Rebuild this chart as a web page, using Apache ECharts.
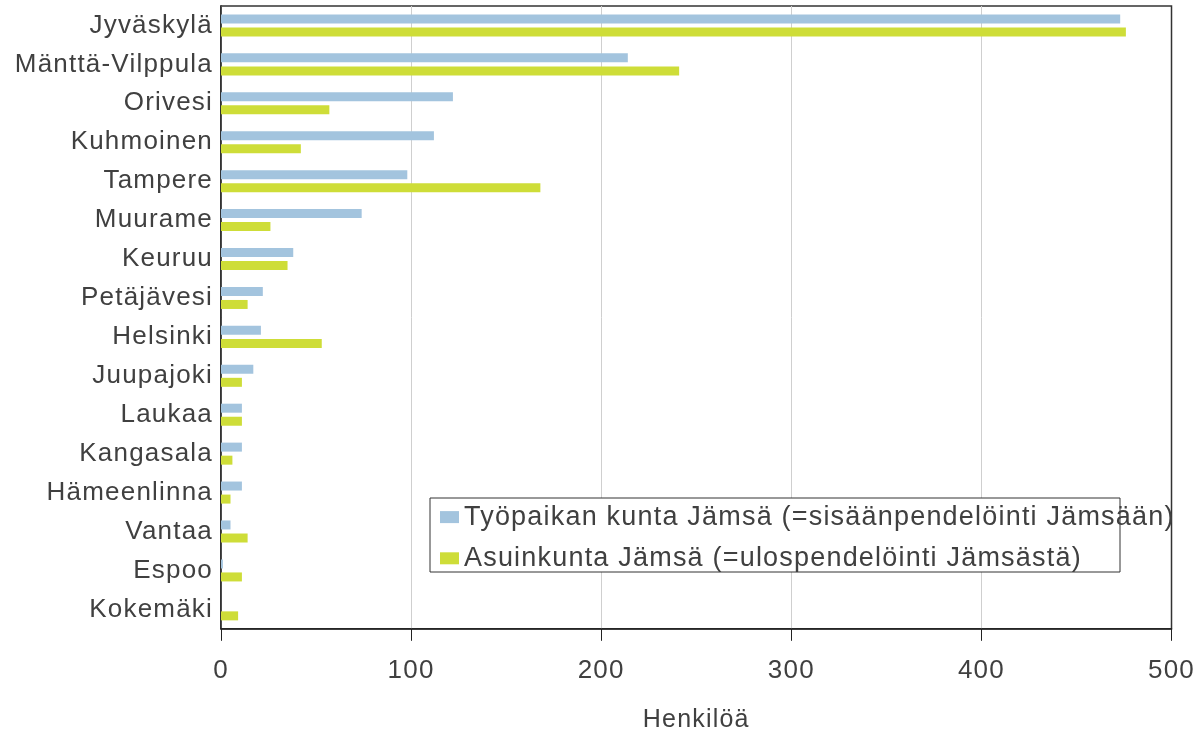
<!DOCTYPE html>
<html>
<head>
<meta charset="utf-8">
<script src="https://cdn.jsdelivr.net/npm/echarts@6/dist/echarts.min.js"></script>
<style>
  html, body { margin: 0; padding: 0; background: #fff; }
  #chart { width: 1198px; height: 738px; }
</style>
</head>
<body>
<div id="chart"></div>
<script>
  // kunnat (ylhäältä alas)
  const kunnat = ['Jyväskylä', 'Mänttä-Vilppula', 'Orivesi', 'Kuhmoinen', 'Tampere', 'Muurame', 'Keuruu',
    'Petäjävesi', 'Helsinki', 'Juupajoki', 'Laukaa', 'Kangasala', 'Hämeenlinna', 'Vantaa', 'Espoo', 'Kokemäki'];
  // Työpaikan kunta Jämsä (sisäänpendelöinti)
  const tyopaikka = [473, 214, 122, 112, 98, 74, 38, 22, 21, 17, 11, 11, 11, 5, 1, 0];
  // Asuinkunta Jämsä (ulospendelöinti)
  const asuinkunta = [476, 241, 57, 42, 168, 26, 35, 14, 53, 11, 11, 6, 5, 14, 11, 9];
  const xTicks = [0, 100, 200, 300, 400, 500];

  const sarjat = ['Työpaikan kunta Jämsä (=sisäänpendelöinti Jämsään)', 'Asuinkunta Jämsä (=ulospendelöinti Jämsästä)'];
  const txt = '#404040';
  const font = 'Liberation Sans';

  // excelin kuvassa teksti on harvaa -> pieni kirjainväli canvakseen
  const proto = CanvasRenderingContext2D.prototype;
  const fontDesc = Object.getOwnPropertyDescriptor(proto, 'font');
  if (fontDesc && 'letterSpacing' in proto) {
    Object.defineProperty(proto, 'font', {
      configurable: true,
      get() { return fontDesc.get.call(this); },
      set(v) { fontDesc.set.call(this, v); this.letterSpacing = '1.2px'; }
    });
  }

  let chart = echarts.init(document.getElementById('chart'));
  chart.setOption({
    animation: false,
    textStyle: { fontFamily: font },
    grid: {
      left: 221, right: 26, top: 6, bottom: 101,
      show: true, borderColor: '#333', borderWidth: 1.5
    },
    graphic: [{
      type: 'rect', z: 3,
      shape: { x: 430, y: 498, width: 690, height: 74 },
      style: { fill: '#fff', stroke: '#333', lineWidth: 1 }
    }],
    legend: {
      orient: 'vertical',
      left: 440, top: 503,
      itemWidth: 19, itemHeight: 12, itemGap: 13,
      icon: 'rect',
      padding: 0,
      textStyle: { fontSize: 27, color: txt, fontFamily: font },
      data: sarjat
    },
    xAxis: {
      type: 'value',
      min: xTicks[0], max: xTicks[xTicks.length - 1], interval: 100,
      name: 'Henkilöä',
      nameLocation: 'middle',
      nameGap: 78,
      nameTextStyle: { fontSize: 25, color: txt },
      axisLine: { show: true, lineStyle: { color: '#222', width: 1.5 } },
      axisTick: { show: true, length: 12, lineStyle: { color: '#222' } },
      axisLabel: { fontSize: 26, color: txt, margin: 28 },
      splitLine: { showMaxLine: false, lineStyle: { color: '#cfcfcf' } }
    },
    yAxis: {
      type: 'category',
      inverse: true,
      data: kunnat,
      axisLine: { show: true, lineStyle: { color: '#222', width: 1.5 } },
      axisTick: { show: false },
      axisLabel: { fontSize: 26, color: txt, margin: 8 }
    },
    series: [
      {
        name: sarjat[0], type: 'bar', data: tyopaikka,
        barWidth: 9, barGap: '45%',
        itemStyle: { color: '#a3c4de' }
      },
      {
        name: sarjat[1], type: 'bar', data: asuinkunta,
        barWidth: 9,
        itemStyle: { color: '#cedd38' }
      }
    ]
  });
</script>
</body>
</html>
